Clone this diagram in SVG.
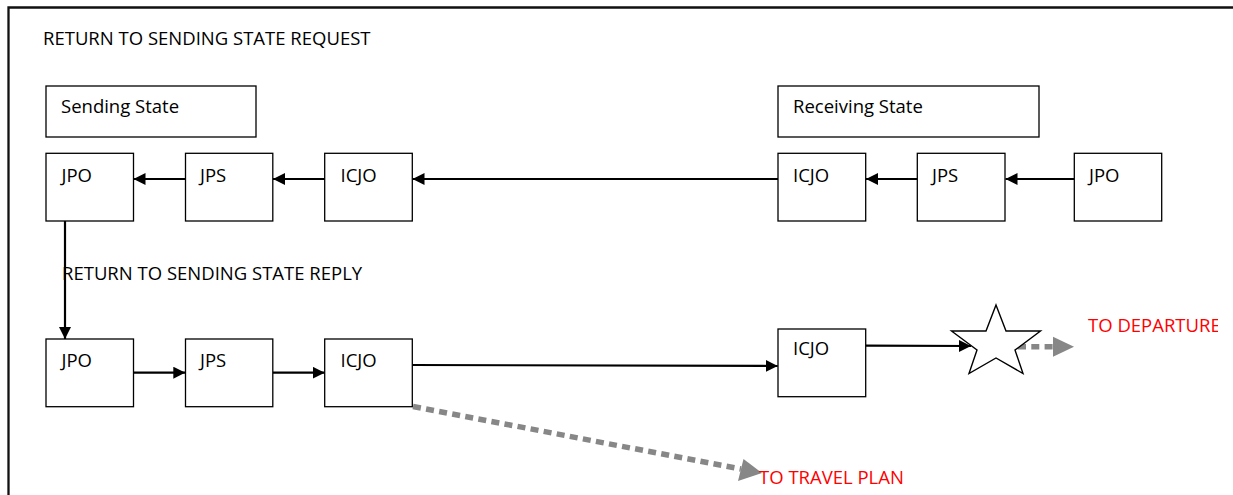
<svg xmlns="http://www.w3.org/2000/svg" width="1233" height="495" viewBox="0 0 1233 495">
  <style>
    .box { fill: #fff; stroke: #000; stroke-width: 1.3; }
    .lbl { font-family: "Open Sans", "Liberation Sans", sans-serif; font-size: 18.5px; fill: #000; }
    .red { fill: #ff0000; }
    .conn { fill: none; stroke: #000; stroke-width: 2.2; }
    .dash { fill: none; stroke: #878787; stroke-width: 5.5; stroke-dasharray: 8 5.3; }
    .frame { fill: none; stroke: #111; stroke-width: 2.3; }
  </style>
  <defs>
    <marker id="arrow" viewBox="0 0 12 12" refX="12" refY="6" markerWidth="12" markerHeight="12" markerUnits="userSpaceOnUse" orient="auto">
      <path d="M0,0 L12,6 L0,12 Z" fill="#000"/>
    </marker>
    <clipPath id="clipDeparture">
      <rect x="1080" y="300" width="138" height="50"/>
    </clipPath>
  </defs>

  <rect width="1233" height="495" fill="#fff"/>

  <!-- outer frame (only top and left edges fall inside the view) -->
  <path class="frame" d="M8.5,495 V7.5 H1233"/>

  <text class="lbl" x="43" y="45">RETURN TO SENDING STATE REQUEST</text>
  <text class="lbl" x="62" y="280">RETURN TO SENDING STATE REPLY</text>

  <!-- connectors -->
  <g id="connectors">
    <!-- request chain -->
    <line class="conn" x1="1074" y1="179" x2="1005.5" y2="179" marker-end="url(#arrow)"/>
    <line class="conn" x1="917" y1="179" x2="866" y2="179" marker-end="url(#arrow)"/>
    <line class="conn" x1="778" y1="179" x2="412.5" y2="179" marker-end="url(#arrow)"/>
    <line class="conn" x1="324.7" y1="179" x2="273" y2="179" marker-end="url(#arrow)"/>
    <line class="conn" x1="185.3" y1="179" x2="133.5" y2="179" marker-end="url(#arrow)"/>
    <!-- turn-around -->
    <line class="conn" x1="65" y1="221" x2="65" y2="339" marker-end="url(#arrow)"/>
    <!-- reply chain -->
    <line class="conn" x1="133.3" y1="372.7" x2="185.3" y2="372.7" marker-end="url(#arrow)"/>
    <line class="conn" x1="272.7" y1="372.7" x2="324.7" y2="372.7" marker-end="url(#arrow)"/>
    <line class="conn" x1="412.3" y1="365" x2="777.7" y2="366" marker-end="url(#arrow)"/>
    <line class="conn" x1="865.7" y1="345.7" x2="971" y2="346" marker-end="url(#arrow)"/>
    <!-- onward dashed arrows -->
    <line class="dash" x1="413" y1="406.5" x2="741" y2="469"/>
    <path d="M762,473 L743.5,459 L738,481 Z" fill="#878787"/>
    <line class="dash" x1="1018" y1="346.7" x2="1053" y2="346.7"/>
    <path d="M1074,346.7 L1053,336.7 L1053,356.7 Z" fill="#878787"/>
  </g>

  <!-- Sending State -->
  <g id="sending-state">
    <rect class="box" x="46" y="86" width="210" height="51"/>
    <text class="lbl" x="61" y="113">Sending State</text>
  </g>
  <!-- Receiving State -->
  <g id="receiving-state">
    <rect class="box" x="778" y="86" width="261" height="51"/>
    <text class="lbl" x="793" y="113">Receiving State</text>
  </g>

  <!-- request row -->
  <g id="req-jpo-send">
    <rect class="box" x="46" y="153.3" width="87.5" height="67.7"/>
    <text class="lbl" x="61.5" y="181.5">JPO</text>
  </g>
  <g id="req-jps-send">
    <rect class="box" x="185.5" y="153.3" width="87.3" height="67.7"/>
    <text class="lbl" x="200" y="181.5">JPS</text>
  </g>
  <g id="req-icjo-send">
    <rect class="box" x="324.7" y="153.3" width="87.6" height="67.7"/>
    <text class="lbl" x="340.5" y="181.5">ICJO</text>
  </g>
  <g id="req-icjo-recv">
    <rect class="box" x="778" y="153.3" width="87.7" height="67.7"/>
    <text class="lbl" x="793" y="181.5">ICJO</text>
  </g>
  <g id="req-jps-recv">
    <rect class="box" x="917.3" y="153.3" width="87.7" height="67.7"/>
    <text class="lbl" x="932" y="181.5">JPS</text>
  </g>
  <g id="req-jpo-recv">
    <rect class="box" x="1074.3" y="153.3" width="87.4" height="67.7"/>
    <text class="lbl" x="1089" y="181.5">JPO</text>
  </g>

  <!-- reply row -->
  <g id="rep-jpo-send">
    <rect class="box" x="46" y="339" width="87.5" height="67.7"/>
    <text class="lbl" x="61.5" y="367">JPO</text>
  </g>
  <g id="rep-jps-send">
    <rect class="box" x="185.5" y="339" width="87.3" height="67.7"/>
    <text class="lbl" x="200" y="367">JPS</text>
  </g>
  <g id="rep-icjo-send">
    <rect class="box" x="324.7" y="339" width="87.6" height="67.7"/>
    <text class="lbl" x="340.5" y="367">ICJO</text>
  </g>
  <g id="rep-icjo-recv">
    <rect class="box" x="778" y="329" width="87.7" height="67.7"/>
    <text class="lbl" x="793" y="355">ICJO</text>
  </g>

  <!-- departure star -->
  <g id="departure-star">
    <polygon points="996,305 1006,331 1040.5,331 1015,350 1023,373.5 996,358 969,373.5 977,350 951.5,331 986,331" fill="#fff" stroke="#000" stroke-width="1.4" stroke-linejoin="miter"/>
  </g>

  <g id="to-departure">
    <text class="lbl red" x="1088" y="332" clip-path="url(#clipDeparture)">TO DEPARTURE</text>
  </g>
  <g id="to-travel-plan">
    <text class="lbl red" x="759" y="484">TO TRAVEL PLAN</text>
  </g>
</svg>
